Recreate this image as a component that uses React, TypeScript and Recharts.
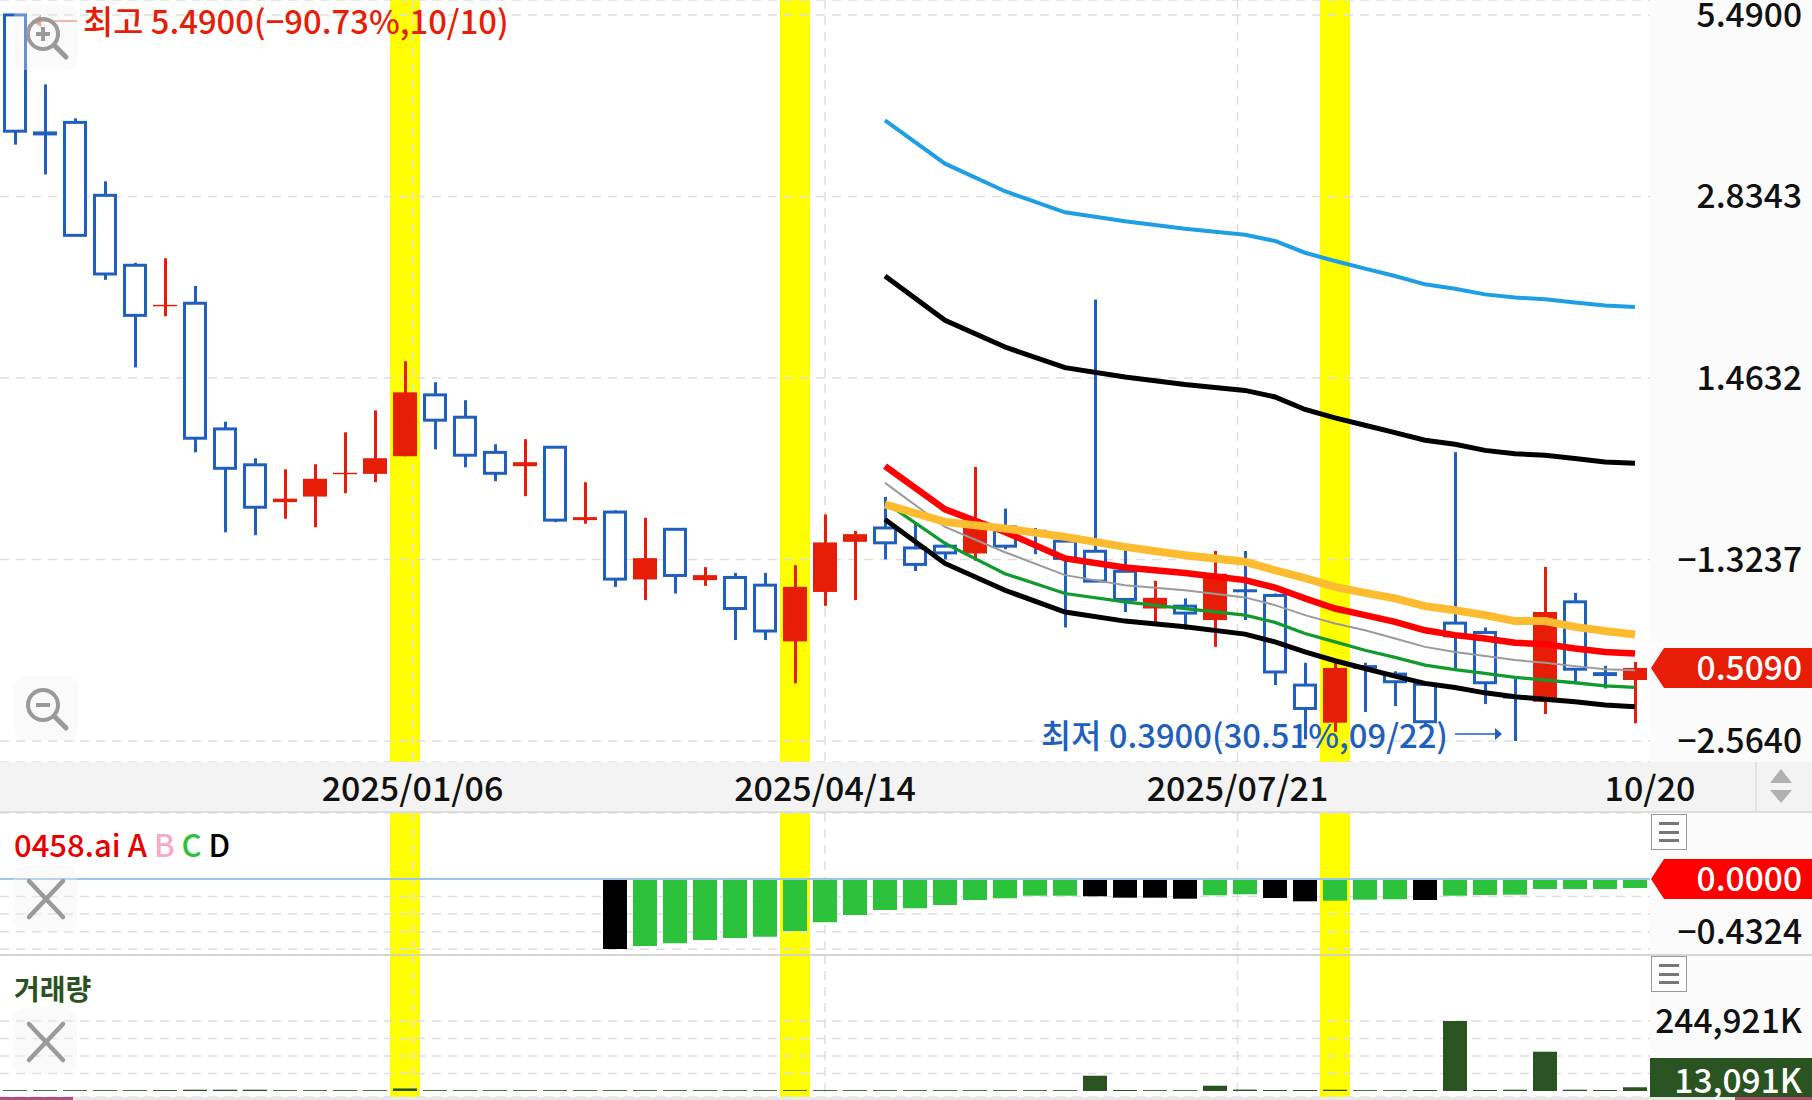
import React from 'react'
import {
  Bar,
  CartesianGrid,
  Cell,
  ComposedChart,
  Line,
  ReferenceArea,
  ReferenceDot,
  ReferenceLine,
  XAxis,
  YAxis,
} from 'recharts'

// weekly candles, 2024/10/07 .. 2025/10/20
const weeks = [
  '2024/10/07', '2024/10/14', '2024/10/21', '2024/10/28', '2024/11/04', '2024/11/11', '2024/11/18',
  '2024/11/25', '2024/12/02', '2024/12/09', '2024/12/16', '2024/12/23', '2024/12/30', '2025/01/06',
  '2025/01/13', '2025/01/20', '2025/01/27', '2025/02/03', '2025/02/10', '2025/02/17', '2025/02/24',
  '2025/03/03', '2025/03/10', '2025/03/17', '2025/03/24', '2025/03/31', '2025/04/07', '2025/04/14',
  '2025/04/21', '2025/04/28', '2025/05/05', '2025/05/12', '2025/05/19', '2025/05/26', '2025/06/02',
  '2025/06/09', '2025/06/16', '2025/06/23', '2025/06/30', '2025/07/07', '2025/07/14', '2025/07/21',
  '2025/07/28', '2025/08/04', '2025/08/11', '2025/08/18', '2025/08/25', '2025/09/01', '2025/09/08',
  '2025/09/15', '2025/09/22', '2025/09/29', '2025/10/06', '2025/10/13', '2025/10/20',
]

const opens = [
  5.49, 3.592, 3.712, 2.846, 2.206, 1.9, 1.921, 1.2155, 1.0665, 0.9309, 0.95, 1.0305, 1.0319, 1.1004,
  1.3759, 1.2684, 1.1159, 1.061, 1.137, 0.8719, 0.8979, 0.7025, 0.8433, 0.7007, 0.7076, 0.688, 0.5606,
  0.6712, 0.8056, 0.8474, 0.7879, 0.793, 0.7721, 0.8506, 0.8418, 0.8077, 0.7784, 0.7236, 0.6319, 0.6374,
  0.6058, 0.6778, 0.6627, 0.4781, 0.4169, 0.5142, 0.4976, 0.4794, 0.5992, 0.579, 0.461, 0.4499, 0.6475,
  0.5012, 0.487,
]
const closes = [
  3.595, 3.54, 2.46, 2.137, 1.838, 1.91, 1.175, 1.053, 0.9138, 0.9428, 1.0136, 1.036, 1.0925, 1.3887,
  1.2547, 1.1044, 1.0341, 1.0768, 0.8719, 0.8814, 0.7033, 0.7592, 0.7127, 0.7136, 0.6319, 0.5822, 0.6837,
  0.8039, 0.8284, 0.8027, 0.742, 0.7738, 0.8529, 0.793, 0.8313, 0.7584, 0.6982, 0.6532, 0.657, 0.6215,
  0.7173, 0.6705, 0.5015, 0.4391, 0.509, 0.5075, 0.484, 0.4184, 0.572, 0.4822, 0.4552, 0.6239, 0.5066,
  0.4941, 0.509,
]
const highs = [
  5.49, 4.263, 3.767, 2.9949, 2.226, 2.263, 2.046, 1.248, 1.0925, 1.049, 1.0689, 1.2005, 1.3004, 1.5552,
  1.4408, 1.3494, 1.1496, 1.1708, 1.1411, 1.0011, 0.9036, 0.8792, 0.8433, 0.7346, 0.7194, 0.7194, 0.74,
  0.89, 0.8381, 0.949, 0.8614, 0.8056, 1.0582, 0.9094, 0.8474, 0.8284, 1.9469, 0.7891, 0.699, 0.6556,
  0.7792, 0.7792, 0.6674, 0.5186, 0.5186, 0.5186, 0.5028, 0.4794, 1.1169, 0.5897, 0.49, 0.7354, 0.6689,
  0.5128, 0.5201,
]
const lows = [
  3.423, 3.071, 2.455, 2.092, 1.521, 1.832, 1.116, 0.834, 0.8254, 0.8763, 0.8497, 0.9616, 1.0012, 1.1004,
  1.1284, 1.057, 1.0048, 0.9514, 0.8655, 0.8605, 0.6837, 0.6516, 0.6674, 0.6862, 0.5633, 0.5633, 0.4811,
  0.638, 0.6516, 0.7557, 0.7244, 0.7557, 0.7518, 0.7841, 0.7702, 0.5897, 0.6982, 0.6239, 0.6008, 0.5853,
  0.5495, 0.6058, 0.4781, 0.3924, 0.4032, 0.4335, 0.4429, 0.4134, 0.5033, 0.4461, 0.39, 0.4302, 0.484,
  0.4723, 0.416,
]

// moving averages only start at the 30th candle
const lead: (number | null)[] = Array(29).fill(null)
const maSky = [...lead, 3.7395, null, 3.194, null, 2.889, null, 2.6757, null, 2.589, null, 2.52, null, 2.466, 2.41, 2.309, 2.2407, 2.1787, 2.1212, 2.058, 2.0257, 1.984, 1.961, 1.949, 1.9258, 1.9045, 1.8947]
const maUpper = [...lead, 2.1212, null, 1.8056, null, 1.6379, null, 1.5194, null, 1.4687, null, 1.4287, null, 1.3985, 1.3656, 1.3048, 1.2651, 1.2318, 1.1993, 1.1666, 1.1496, 1.1241, 1.1101, 1.1044, 1.0914, 1.0779, 1.0728]
const maOrange = [...lead, 0.9231, null, 0.8664, null, 0.8456, null, 0.8204, null, 0.7909, null, 0.7674, null, 0.7491, 0.7264, 0.7059, 0.6837, 0.6689, 0.6556, 0.6374, 0.6279, 0.6168, 0.6036, 0.6036, 0.5911, 0.5822, 0.5749]
const maRed = [...lead, 1.061, null, 0.907, null, 0.8351, null, 0.7584, null, 0.7337, null, 0.7194, null, 0.7007, 0.6821, 0.6556, 0.6319, 0.6168, 0.602, 0.5838, 0.5735, 0.5667, 0.5577, 0.555, 0.5463, 0.5395, 0.5365]
const maGray = [...lead, 0.9986, null, 0.8506, null, 0.7757, null, 0.7136, null, 0.688, null, 0.6753, null, 0.658, 0.6397, 0.6168, 0.5985, 0.5838, 0.5667, 0.5495, 0.5395, 0.5314, 0.5237, 0.5186, 0.5123, 0.5066, 0.5047]
const maGreen = [...lead, 0.9309, null, 0.8009, null, 0.7173, null, 0.6674, null, 0.6475, null, 0.6319, null, 0.6168, 0.6008, 0.577, 0.5597, 0.5428, 0.5289, 0.5142, 0.506, 0.4988, 0.4918, 0.487, 0.4822, 0.4769, 0.474]
const maLower = [...lead, 0.8741, null, 0.7447, null, 0.6753, null, 0.6239, null, 0.6036, null, 0.5911, null, 0.5756, 0.5597, 0.5395, 0.5224, 0.5079, 0.4941, 0.4811, 0.474, 0.4648, 0.4582, 0.4539, 0.4499, 0.4445, 0.4417]

// 0458.ai pane, histogram starts at the 21st candle
const aiLead: (number | null)[] = Array(20).fill(null)
const aiValues = [
  ...aiLead, -0.5744, -0.5497, -0.5276, -0.5005, -0.4841, -0.4734, -0.4267, -0.3553, -0.2954, -0.2544,
  -0.2404, -0.2133, -0.1723, -0.1584, -0.137, -0.137, -0.1419, -0.1534, -0.1534, -0.1616, -0.1337, -0.1255,
  -0.1559, -0.183, -0.178, -0.1698, -0.1666, -0.1723, -0.137, -0.1313, -0.1288, -0.082, -0.082, -0.082, -0.0738,
]
const aiBlackWeeks = [20, 36, 37, 38, 39, 42, 43, 47]

// volume, in thousands
const volumes = [
  3000, 3000, 3000, 3000, 3000, 3200, 4500, 4500, 4500, 3000, 3000, 3000, 3000, 9000, 3000, 3000, 3000,
  3000, 3000, 3000, 3000, 3000, 3000, 3000, 3000, 3000, 3000, 3000, 3000, 3000, 3000, 3000, 3000, 3000,
  3000, 3000, 53500, 3500, 3000, 3000, 18500, 5000, 3500, 3500, 4500, 3000, 3000, 3500, 244921, 3500, 4500,
  137500, 4500, 3500, 13091,
]

const highlightWeeks = ['2025/01/06', '2025/04/07', '2025/08/11']

const priceTicks = [5.49, 2.8343, 1.4632, 0.7554, 0.39]
const priceTickLabels = ['5.4900', '2.8343', '1.4632', '−1.3237', '−2.5640']
const dateTicks = [1, 2, 3, 4]
const dateTickLabels = ['2025/01/06', '2025/04/14', '2025/07/21', '10/20']
const aiTicks = [0, -0.1441, -0.2882, -0.4324, -0.5765]
const volumeTicks = [244921, 183691, 122461, 61230]

const lastPrice = 0.509

const chartData = weeks.map((week, i) => ({
  week,
  open: opens[i],
  close: closes[i],
  high: highs[i],
  low: lows[i],
  maSky: maSky[i],
  maUpper: maUpper[i],
  maOrange: maOrange[i],
  maRed: maRed[i],
  maGray: maGray[i],
  maGreen: maGreen[i],
  maLower: maLower[i],
  ai: aiValues[i],
  volume: volumes[i],
}))

const dateStripData = dateTicks.map((pos) => ({ pos }))

const FONT = '"Noto Sans CJK KR", "Noto Sans", sans-serif'
const BLUE = '#1f5fbf'
const RED = '#e61e07'
const PLOT_WIDTH = 1650
const AXIS_WIDTH = 162
const LABEL_X = 1802
const LABEL_SIZE = 33.5
const NOTE_SIZE = 32.8
const GRID_COLOR = '#dedede'
const GRID_DASH = '9 7'

// the date lines sit on quarters of the plot, not on candles
const quarterLines = () => [PLOT_WIDTH / 4, PLOT_WIDTH / 2, (PLOT_WIDTH * 3) / 4]

const Wick = ({ x, y, width, height, payload }: any) => (
  <rect x={x} y={y} width={width} height={height} fill={payload.close >= payload.open ? RED : BLUE} />
)

const CandleBody = ({ x, y, width, height, payload }: any) => {
  if (payload.close >= payload.open) {
    return <rect x={x} y={y} width={width} height={height} fill={RED} />
  }
  if (height < 6) {
    return <rect x={x} y={y} width={width} height={Math.max(height, 3)} fill={BLUE} />
  }
  return (
    <rect x={x + 1.5} y={y} width={width - 3} height={height} fill="#fff" stroke={BLUE} strokeWidth={3} />
  )
}

const PaneLabel = ({ y, children, fill = '#111' }: any) => (
  <text x={LABEL_X} y={y + 12} textAnchor="end" fontFamily={FONT} fontSize={LABEL_SIZE} fontWeight={500} fill={fill}>
    {children}
  </text>
)

const PriceTick = ({ y, payload }: any) => (
  <PaneLabel y={y}>{priceTickLabels[priceTicks.indexOf(payload.value)]}</PaneLabel>
)

const AiTick = ({ y, payload }: any) => (payload.value === -0.4324 ? <PaneLabel y={y}>−0.4324</PaneLabel> : null)

const VolumeTick = ({ y, payload }: any) => (payload.value === 244921 ? <PaneLabel y={y}>244,921K</PaneLabel> : null)

const tagPoints = (cy: number) =>
  `1651,${cy} 1664,${cy - 20} 1812,${cy - 20} 1812,${cy + 20} 1664,${cy + 20}`

const PriceTag = ({ cy }: any) => (
  <g>
    <polygon points={tagPoints(cy)} fill={RED} />
    <PaneLabel y={cy} fill="#fff">0.5090</PaneLabel>
  </g>
)

const AiTag = ({ cy }: any) => (
  <g>
    <polygon points={tagPoints(cy)} fill="#ff0000" />
    <PaneLabel y={cy} fill="#fff">0.0000</PaneLabel>
  </g>
)

const HighMark = ({ cx, cy }: any) => (
  <g>
    <line x1={cx + 17} y1={cy + 6} x2={cx + 62} y2={cy + 6} stroke={RED} strokeWidth={1.5} opacity={0.6} />
    <path d={`M${cx + 17} ${cy + 6} l9 -6 v12 z`} fill={RED} opacity={0.6} />
    <text x={cx + 68} y={cy + 19} fontFamily={FONT} fontSize={NOTE_SIZE} fontWeight={500} fill={RED}>
      최고 5.4900(−90.73%,10/10)
    </text>
  </g>
)

const LowMark = ({ cx, cy }: any) => (
  <g>
    <text x={cx - 474} y={cy + 7} fontFamily={FONT} fontSize={NOTE_SIZE} fontWeight={500} fill={BLUE}>
      최저 0.3900(30.51%,09/22)
    </text>
    <line x1={cx - 60} y1={cy - 7} x2={cx - 14} y2={cy - 7} stroke={BLUE} strokeWidth={1.5} />
    <path d={`M${cx - 13} ${cy - 7} l-7 -6 v12 z`} fill={BLUE} />
  </g>
)

const Bands = ({ axisId }: { axisId: string }) =>
  highlightWeeks.map((week) => (
    <ReferenceArea
      key={week}
      xAxisId={axisId}
      x1={week}
      x2={week}
      fill="#ffff00"
      fillOpacity={1}
      stroke="none"
      ifOverflow="visible"
      zIndex={-200}
    />
  ))

const maLine = (key: string, color: string, width: number) => (
  <Line
    key={key}
    xAxisId="body"
    dataKey={key}
    stroke={color}
    strokeWidth={width}
    dot={false}
    activeDot={false}
    connectNulls
    isAnimationActive={false}
  />
)

const PriceChart = () => (
  <ComposedChart
    width={1812}
    height={762}
    data={chartData}
    margin={{ top: 0, right: 0, bottom: 0, left: 0 }}
    barGap={0}
    style={{ position: 'absolute', left: 0, top: 0 }}
  >
    {Bands({ axisId: 'body' })}
    <CartesianGrid
      xAxisId="body"
      stroke={GRID_COLOR}
      strokeDasharray={GRID_DASH}
      strokeWidth={1.5}
      verticalCoordinatesGenerator={quarterLines}
    />
    <XAxis xAxisId="wick" dataKey="week" hide />
    <XAxis xAxisId="body" dataKey="week" hide />
    <YAxis
      orientation="right"
      width={AXIS_WIDTH}
      scale="log"
      type="number"
      domain={[0.3613, 5.797]}
      ticks={priceTicks}
      interval={0}
      axisLine={false}
      tickLine={false}
      tick={PriceTick}
      allowDataOverflow
    />
    {maLine('maSky', '#1f9fe3', 4)}
    {maLine('maUpper', '#000', 5)}
    {maLine('maRed', '#ff0000', 6.5)}
    {maLine('maGray', '#9a9a9a', 2)}
    {maLine('maGreen', '#119a2e', 3.3)}
    {maLine('maLower', '#000', 5)}
    {maLine('maOrange', '#fdbb30', 8)}
    <Bar
      xAxisId="wick"
      dataKey={(d: any) => [d.low, d.high]}
      barSize={3}
      shape={Wick}
      isAnimationActive={false}
    />
    <Bar
      xAxisId="body"
      dataKey={(d: any) => [Math.min(d.open, d.close), Math.max(d.open, d.close)]}
      barSize={24}
      shape={CandleBody}
      isAnimationActive={false}
    />
    <ReferenceDot xAxisId="body" x={weeks[0]} y={5.49} shape={HighMark} ifOverflow="visible" />
    <ReferenceDot xAxisId="body" x="2025/09/22" y={0.39} shape={LowMark} ifOverflow="visible" />
    <ReferenceDot xAxisId="body" x={weeks[54]} y={lastPrice} shape={PriceTag} ifOverflow="visible" />
  </ComposedChart>
)

const DateStrip = () => (
  <ComposedChart
    width={1812}
    height={62}
    data={dateStripData}
    margin={{ top: 0, right: AXIS_WIDTH, bottom: 0, left: 0 }}
    style={{ position: 'absolute', left: 0, top: 762 }}
  >
    <XAxis
      dataKey="pos"
      type="number"
      domain={[0, 4]}
      ticks={dateTicks}
      interval={0}
      height={60}
      axisLine={false}
      tickLine={false}
      tickFormatter={(v: number) => dateTickLabels[v - 1]}
      tick={{ fontFamily: FONT, fontSize: 34, fill: '#111', fontWeight: 500, dy: 5 }}
    />
    <YAxis hide />
    <Line dataKey="pos" stroke="none" dot={false} activeDot={false} isAnimationActive={false} />
  </ComposedChart>
)

const AiChart = () => (
  <ComposedChart
    width={1812}
    height={142}
    data={chartData}
    margin={{ top: 0, right: 0, bottom: 0, left: 0 }}
    style={{ position: 'absolute', left: 0, top: 813 }}
  >
    {Bands({ axisId: 'ai' })}
    <CartesianGrid
      xAxisId="ai"
      stroke={GRID_COLOR}
      strokeDasharray={GRID_DASH}
      strokeWidth={1.5}
      verticalCoordinatesGenerator={quarterLines}
    />
    <XAxis xAxisId="ai" dataKey="week" hide />
    <YAxis
      orientation="right"
      width={AXIS_WIDTH}
      type="number"
      domain={[-0.6236, 0.5415]}
      ticks={aiTicks}
      interval={0}
      axisLine={false}
      tickLine={false}
      tick={AiTick}
      allowDataOverflow
    />
    <Bar xAxisId="ai" dataKey="ai" barSize={24} isAnimationActive={false}>
      {weeks.map((week, i) => (
        <Cell key={week} fill={aiBlackWeeks.includes(i) ? '#000' : '#2dc23b'} />
      ))}
    </Bar>
    <ReferenceLine xAxisId="ai" y={0} stroke="#9cc5ee" strokeWidth={2} />
    <ReferenceDot xAxisId="ai" x={weeks[54]} y={0} shape={AiTag} ifOverflow="visible" />
  </ComposedChart>
)

const VolumeChart = () => (
  <ComposedChart
    width={1812}
    height={142}
    data={chartData}
    margin={{ top: 0, right: 0, bottom: 0, left: 0 }}
    style={{ position: 'absolute', left: 0, top: 955 }}
  >
    {Bands({ axisId: 'vol' })}
    <CartesianGrid
      xAxisId="vol"
      stroke={GRID_COLOR}
      strokeDasharray={GRID_DASH}
      strokeWidth={1.5}
      verticalCoordinatesGenerator={quarterLines}
    />
    <XAxis xAxisId="vol" dataKey="week" hide />
    <YAxis
      orientation="right"
      width={AXIS_WIDTH}
      type="number"
      domain={[-21000, 475900]}
      ticks={volumeTicks}
      interval={0}
      axisLine={false}
      tickLine={false}
      tick={VolumeTick}
      allowDataOverflow
    />
    <Bar xAxisId="vol" dataKey="volume" barSize={24} fill="#2a5322" isAnimationActive={false} />
  </ComposedChart>
)

const box = (left: number, top: number, width: number, height: number, style = {}): React.CSSProperties => ({
  position: 'absolute',
  left,
  top,
  width,
  height,
  ...style,
})

const MagnifierButton = ({ top, plus }: { top: number; plus: boolean }) => (
  <div style={box(14, top, 64, 65, { background: 'rgba(240,240,240,0.35)', borderRadius: 12 })}>
    <svg width={64} height={65}>
      <circle cx={29} cy={29} r={15} fill="none" stroke="#9a9a9a" strokeWidth={4} />
      <line x1={41} y1={41} x2={52} y2={52} stroke="#9a9a9a" strokeWidth={5} strokeLinecap="round" />
      <line x1={22} y1={29} x2={36} y2={29} stroke="#9a9a9a" strokeWidth={4} />
      {plus && <line x1={29} y1={22} x2={29} y2={36} stroke="#9a9a9a" strokeWidth={4} />}
    </svg>
  </div>
)

const CloseButton = ({ top }: { top: number }) => (
  <div style={box(13, top, 64, 66, { background: 'rgba(240,240,240,0.35)', borderRadius: 12 })}>
    <svg width={64} height={66}>
      <line x1={16} y1={16} x2={50} y2={52} stroke="#9a9a9a" strokeWidth={4.5} strokeLinecap="round" />
      <line x1={50} y1={16} x2={16} y2={52} stroke="#9a9a9a" strokeWidth={4.5} strokeLinecap="round" />
    </svg>
  </div>
)

const MenuButton = ({ top }: { top: number }) => (
  <div style={box(1651, top, 36, 36, { border: '1.5px solid #999', boxSizing: 'border-box', background: '#fff' })}>
    <svg width={33} height={33}>
      <rect x={7} y={7} width={20} height={3} fill="#777" />
      <rect x={7} y={16} width={20} height={3} fill="#777" />
      <rect x={7} y={24} width={20} height={3} fill="#777" />
    </svg>
  </div>
)

const paneText: React.CSSProperties = {
  fontFamily: FONT,
  fontWeight: 500,
  lineHeight: 1,
  whiteSpace: 'nowrap',
}

export default function App() {
  return (
    <div style={box(0, 0, 1812, 1100, { background: '#fff', overflow: 'hidden' })}>
      {/* right axis column and the date strip */}
      <div style={box(1650, 0, 162, 1097, { background: '#fbfbfb' })} />
      <div style={box(0, 762, 1812, 51, { background: '#f3f3f3', borderBottom: '2px solid #ddd', boxSizing: 'border-box' })} />
      <div style={box(1755, 762, 2, 50, { background: '#e2e2e2' })} />

      <PriceChart />
      <AiChart />
      <VolumeChart />
      <DateStrip />

      {/* chrome over the charts */}
      <div style={box(0, 954, 1812, 2, { background: 'rgba(205,205,205,0.8)' })} />
      <div style={box(0, 1097, 1812, 3, { background: '#e8e8e8' })} />
      <div style={box(0, 1097, 73, 3, { background: '#b04f80' })} />
      <div style={box(1735, 1097, 77, 3, { background: '#b0506a' })} />

      <svg style={box(1770, 766, 24, 40)} width={24} height={40}>
        <polygon points="11,3 22,17 0,17" fill="#b0b0b0" />
        <polygon points="0,24 22,24 11,37" fill="#b0b0b0" />
      </svg>

      <MagnifierButton top={5} plus />
      <MagnifierButton top={676} plus={false} />
      <CloseButton top={865} />
      <CloseButton top={1008} />
      <MenuButton top={814} />
      <MenuButton top={956} />

      <div style={{ ...box(14, 828, 400, 30), ...paneText, color: '#e80000', fontSize: 31 }}>
        0458.ai A <span style={{ color: '#f9a8c9' }}>B</span> <span style={{ color: '#2dc23b' }}>C</span>{' '}
        <span style={{ color: '#000' }}>D</span>
      </div>
      <div style={{ ...box(14, 974, 200, 30), ...paneText, color: '#2a5322', fontWeight: 700, fontSize: 28 }}>거래량</div>

      <div style={box(1650, 1058, 162, 39, { background: '#2a5322' })} />
      <div style={{ ...box(1650, 1062, 152, 36), ...paneText, fontSize: LABEL_SIZE, color: '#fff', textAlign: 'right' }}>
        13,091K
      </div>
    </div>
  )
}
